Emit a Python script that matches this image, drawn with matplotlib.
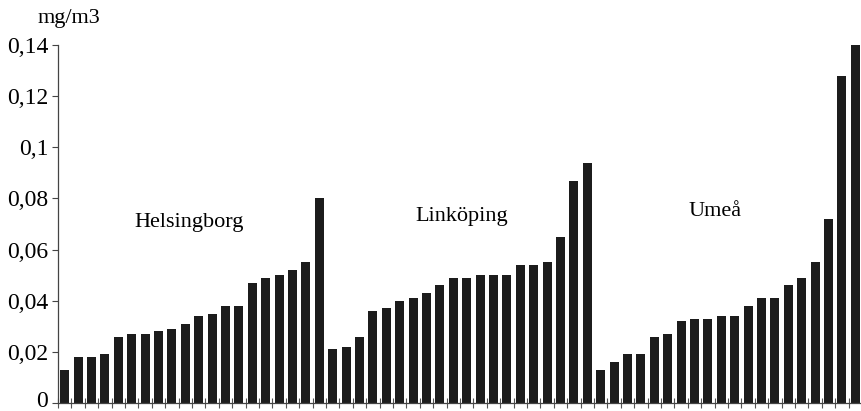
import matplotlib
matplotlib.use("Agg")
import matplotlib.pyplot as plt
import matplotlib.transforms as mtransforms
import numpy as np

# Values (mg/m3), each city sorted ascending
helsingborg = [0.013, 0.018, 0.018, 0.019, 0.026, 0.027, 0.027, 0.028, 0.029, 0.031,
               0.034, 0.035, 0.038, 0.038, 0.047, 0.049, 0.050, 0.052, 0.055, 0.080]
linkoping = [0.021, 0.022, 0.026, 0.036, 0.037, 0.040, 0.041, 0.043, 0.046, 0.049,
             0.049, 0.050, 0.050, 0.050, 0.054, 0.054, 0.055, 0.065, 0.087, 0.094]
umea = [0.013, 0.016, 0.019, 0.019, 0.026, 0.027, 0.032, 0.033, 0.033, 0.034,
        0.034, 0.038, 0.041, 0.041, 0.046, 0.049, 0.055, 0.072, 0.128, 0.140]
cities = ['Helsingborg', 'Linköping', 'Umeå']
ytick_vals = [0, 0.02, 0.04, 0.06, 0.08, 0.1, 0.12, 0.14]
ytick_labels = ['0', '0,02', '0,04', '0,06', '0,08', '0,1', '0,12', '0,14']

values = helsingborg + linkoping + umea
x = np.arange(len(values))

plt.rcParams['font.family'] = ['Liberation Serif', 'DejaVu Serif']

fig = plt.figure(figsize=(8.62, 4.11), dpi=100)
ax = fig.add_axes([58/862, 8/411, 804/862, 358/411])

ax.bar(x, values, width=0.67, color='#1c1c1c')

ax.set_xlim(-0.5, len(values) - 0.5)
ax.set_ylim(0, 0.14)
ax.set_yticks(ytick_vals)
ax.set_yticklabels(ytick_labels, fontsize=17)
ax.set_xticks(np.arange(len(values) + 1) - 0.5)
ax.set_xticklabels([])
ax.tick_params(axis='x', direction='inout', length=7, width=0.8, color='#555555')
ax.tick_params(axis='y', direction='out', length=4, width=0.8, color='#444444', pad=3)

# the "0" label sits at the bottom edge; lift it a little so it stays inside
zero_lbl = ax.get_yticklabels()[0]
zero_lbl.set_transform(zero_lbl.get_transform() +
                       mtransforms.ScaledTranslation(0, 3/72, fig.dpi_scale_trans))

for side in ['top', 'right']:
    ax.spines[side].set_visible(False)
for side in ['left', 'bottom']:
    ax.spines[side].set_color('#444444')
    ax.spines[side].set_linewidth(0.9)

# City labels above each group
label_pos = [(9.3, 0.0704), (29.6, 0.0729), (48.5, 0.0748)]
for name, (lx, ly) in zip(cities, label_pos):
    ax.text(lx, ly, name, ha='center', va='center', fontsize=16)

fig.text(69/862, 1 - 19/411, 'mg/m3', ha='center', va='center', fontsize=16)

fig.savefig('out.png', dpi=100, facecolor='white')
